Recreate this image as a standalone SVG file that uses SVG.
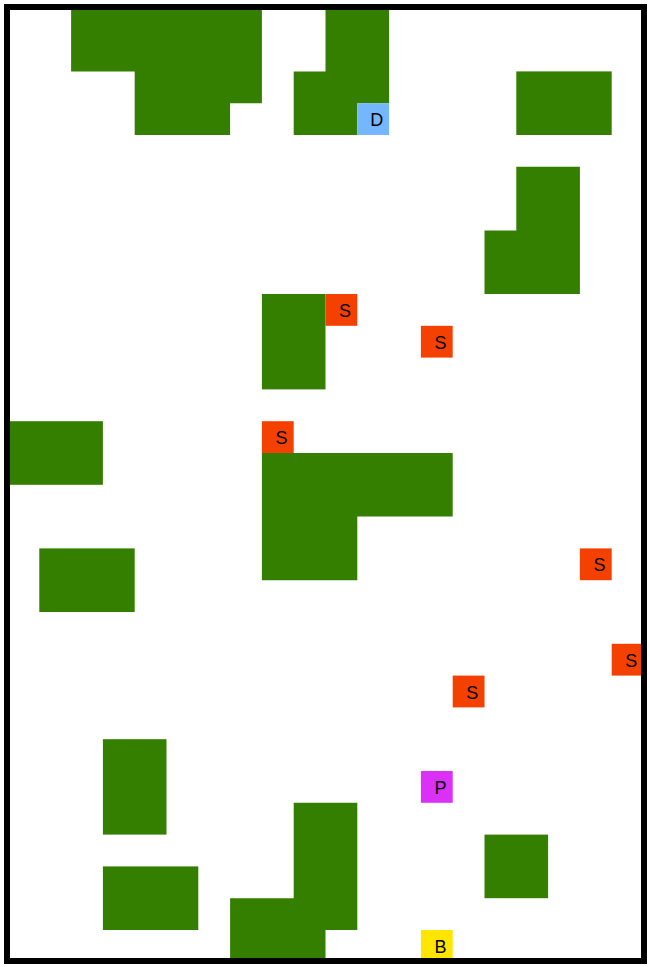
<svg xmlns="http://www.w3.org/2000/svg" width="650" height="967" viewBox="0 0 650 967">
<style>
.wall{fill:#357f00}
.s{fill:#f44000}
.d{fill:#74b6ff}
.p{fill:#db30f5}
.b{fill:#ffe500}
text{font-family:"Liberation Sans",Arial,sans-serif;font-size:18px;fill:#000;text-anchor:middle}
</style>
<rect width="650" height="967" fill="#fff"/>
<g id="obstacles" transform="translate(7.5 7.8) scale(31.8)">
<path id="o1" class="wall" d="M2 0H8V3H7V4H4V2H2Z"/>
<path id="o2" class="wall" d="M10 0H12V3H11V4H9V2H10Z"/>
<rect id="o3" class="wall" x="16" y="2" width="3" height="2"/>
<path id="o4" class="wall" d="M16 5H18V9H15V7H16Z"/>
<rect id="o5" class="wall" x="8" y="9" width="2" height="3"/>
<rect id="o6" class="wall" x="0" y="13" width="3" height="2"/>
<path id="o7" class="wall" d="M8 14H14V16H11V18H8Z"/>
<rect id="o8" class="wall" x="1" y="17" width="3" height="2"/>
<rect id="o9" class="wall" x="3" y="23" width="2" height="3"/>
<path id="o10" class="wall" d="M9 25H11V29H10V30H7V28H9Z"/>
<rect id="o11" class="wall" x="15" y="26" width="2" height="2"/>
<rect id="o12" class="wall" x="3" y="27" width="3" height="2"/>
</g>
<g id="D"><rect class="d" x="357.3" y="103.2" width="31.8" height="31.8"/><text x="376.8" y="126">D</text></g>
<g id="S1"><rect class="s" x="325.5" y="294" width="31.8" height="31.8"/><text x="345" y="317">S</text></g>
<g id="S2"><rect class="s" x="420.9" y="325.8" width="31.8" height="31.8"/><text x="440.4" y="348.8">S</text></g>
<g id="S3"><rect class="s" x="261.9" y="421.2" width="31.8" height="31.8"/><text x="281.4" y="444.2">S</text></g>
<g id="S4"><rect class="s" x="579.9" y="548.4" width="31.8" height="31.8"/><text x="599.4" y="571.4">S</text></g>
<g id="S5"><rect class="s" x="611.7" y="643.8" width="31.8" height="31.8"/><text x="631.2" y="666.8">S</text></g>
<g id="S6"><rect class="s" x="452.7" y="675.6" width="31.8" height="31.8"/><text x="472.2" y="698.6">S</text></g>
<g id="P"><rect class="p" x="420.9" y="771" width="31.8" height="31.8"/><text x="440.4" y="794">P</text></g>
<g id="B"><rect class="b" x="420.9" y="930" width="31.8" height="31.8"/><text x="440.4" y="953">B</text></g>
<g id="connectors"/>
<rect id="border" x="7" y="7" width="637" height="954" fill="none" stroke="#000" stroke-width="6"/>
</svg>
